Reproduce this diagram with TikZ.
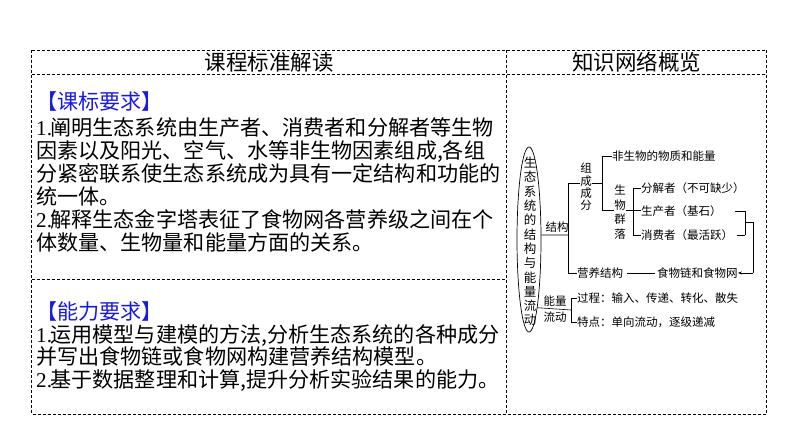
\documentclass[tikz,border=0pt]{standalone}
\usepackage{fontspec}
\setmainfont{Noto Sans CJK SC}
\newfontfamily\latinf{Liberation Serif}
\usetikzlibrary{shapes.geometric,arrows.meta}
\definecolor{kblue}{RGB}{25,25,230}
\newcommand\nm[1]{{\latinf #1}\kern-1.5pt}
\begin{document}
\begin{tikzpicture}[x=1pt,y=-1pt,
  border/.style={dash pattern=on 3pt off 2pt, line width=0.8pt},
  body/.style={anchor=base west, inner sep=0pt, font=\fontsize{21.1}{23}\selectfont},
  head/.style={inner sep=0pt, font=\fontsize{21.5}{24}\selectfont},
  small/.style={inner sep=0pt, font=\fontsize{11.5}{13}\selectfont},
  vsmall/.style={small, align=center},
  link/.style={line width=0.6pt}]
\useasboundingbox (0,0) rectangle (794,446);
% table
\draw[border] (31.5,50) rectangle (766.5,414);
\draw[border] (31.5,74) -- (766.5,74);
\draw[border] (506.5,50) -- (506.5,414);
\draw[border] (31.5,279) -- (506.5,279);
% headers
\node[head] (h1) at (269,62) {课程标准解读};
\node[head] (h2) at (636.5,62) {知识网络概览};
% left body
\node[body] (k0) at (36,109.6) {\textcolor{kblue}{【课标要求】}};
\node[body] (k1) at (36,135.6) {\nm{1.}阐明生态系统由生产者、消费者和分解者等生物};
\node[body] (k2) at (36,158.4) {因素以及阳光、空气、水等非生物因素组成,各组};
\node[body] (k3) at (36,181.4) {分紧密联系使生态系统成为具有一定结构和功能的};
\node[body] (k4) at (36,204.6) {统一体。};
\node[body] (k5) at (36,227.9) {\nm{2.}解释生态金字塔表征了食物网各营养级之间在个};
\node[body] (k6) at (36,250.9) {体数量、生物量和能量方面的关系。};
\node[body] (n0) at (36,319.6) {\textcolor{kblue}{【能力要求】}};
\node[body] (n1) at (36,342.9) {\nm{1.}运用模型与建模的方法,分析生态系统的各种成分};
\node[body] (n2) at (36,364.9) {并写出食物链或食物网构建营养结构模型。};
\node[body] (n3) at (36,387.4) {\nm{2.}基于数据整理和计算,提升分析实验结果的能力。};
% concept map
\node[ellipse, draw, line width=0.7pt, minimum width=24pt, minimum height=185pt, inner sep=0pt] (eco) at (529,239.5) {};
\node[vsmall, font=\fontsize{12.5}{14.3}\selectfont] (ecot) at (530,241.5) {生\\态\\系\\统\\的\\结\\构\\与\\能\\量\\流\\动};
\node[small] (jg) at (557,227) {结构};
\coordinate (a0) at (568,235);
\coordinate (a1) at (568,183);
\coordinate (a2) at (568,273);
\node[vsmall, font=\fontsize{11.5}{12.3}\selectfont] (zc) at (586,187) {组\\成\\成\\分};
\coordinate (b0) at (602,183);
\coordinate (b1) at (602,156);
\coordinate (b2) at (602,210);
\node[small, anchor=west] (fsw) at (612,156) {非生物的物质和能量};
\node[vsmall, font=\fontsize{11.5}{14.5}\selectfont] (sq) at (620,212) {生\\物\\群\\落};
\coordinate (c0) at (633,210);
\coordinate (c1) at (633,188);
\coordinate (c2) at (633,235);
\node[small, anchor=west] (fj) at (641,188) {分解者（不可缺少）};
\node[small, anchor=west] (sc) at (641,211) {生产者（基石）};
\node[small, anchor=west] (xf) at (641,235) {消费者（最活跃）};
\coordinate (r1) at (745,211);
\coordinate (r2) at (745,235);
\coordinate (r0) at (745,222);
\coordinate (s0) at (753,222);
\coordinate (s1) at (753,273);
\node[small, anchor=west] (yy) at (577,273) {营养结构};
\node[small, anchor=west] (sw) at (657,273) {食物链和食物网};
\node[small] (nl1) at (555,301) {能量};
\node[small] (nl2) at (555,317) {流动};
\coordinate (d0) at (571,310);
\coordinate (d1) at (571,298);
\coordinate (d2) at (571,322);
\node[small, anchor=west] (gc) at (577,298) {过程：输入、传递、转化、散失};
\node[small, anchor=west] (td) at (577,322) {特点：单向流动，逐级递减};
% connectors
\draw[link] (eco.20.6) -- (a0);
\draw[link] (a1) -- (a2);
\draw[link] (a1) -- (zc.west |- a1);
\draw[link] (a2) -- (yy.west);
\draw[link] (zc.east |- b0) -- (b0);
\draw[link] (b1) -- (b2);
\draw[link] (b1) -- (fsw.west);
\draw[link] (b2) -- (sq.west |- b2);
\draw[link] (sq.east |- c0) -- (sc.west |- c0);
\draw[link] (c1) -- (c2);
\draw[link] (c1) -- (fj.west);
\draw[link] (c2) -- (xf.west);
\draw[link, shorten <=13pt] (sc.east) -- (r1);
\draw[link, shorten <=4pt] (xf.east) -- (r2);
\draw[link] (r1) -- (r2);
\draw[link] (r0) -- (s0) -- (s1);
\draw[link, -{Stealth[length=4pt,width=3pt]}] (s1) -- (sw.east);
\draw[link, shorten <=4pt, shorten >=2pt] (yy.east) -- (sw.west);
\draw[link] (eco.-83.8) -- (d0);
\draw[link] (d1) -- (d2);
\draw[link] (d1) -- (gc.west);
\draw[link] (d2) -- (td.west);
\end{tikzpicture}
\end{document}
